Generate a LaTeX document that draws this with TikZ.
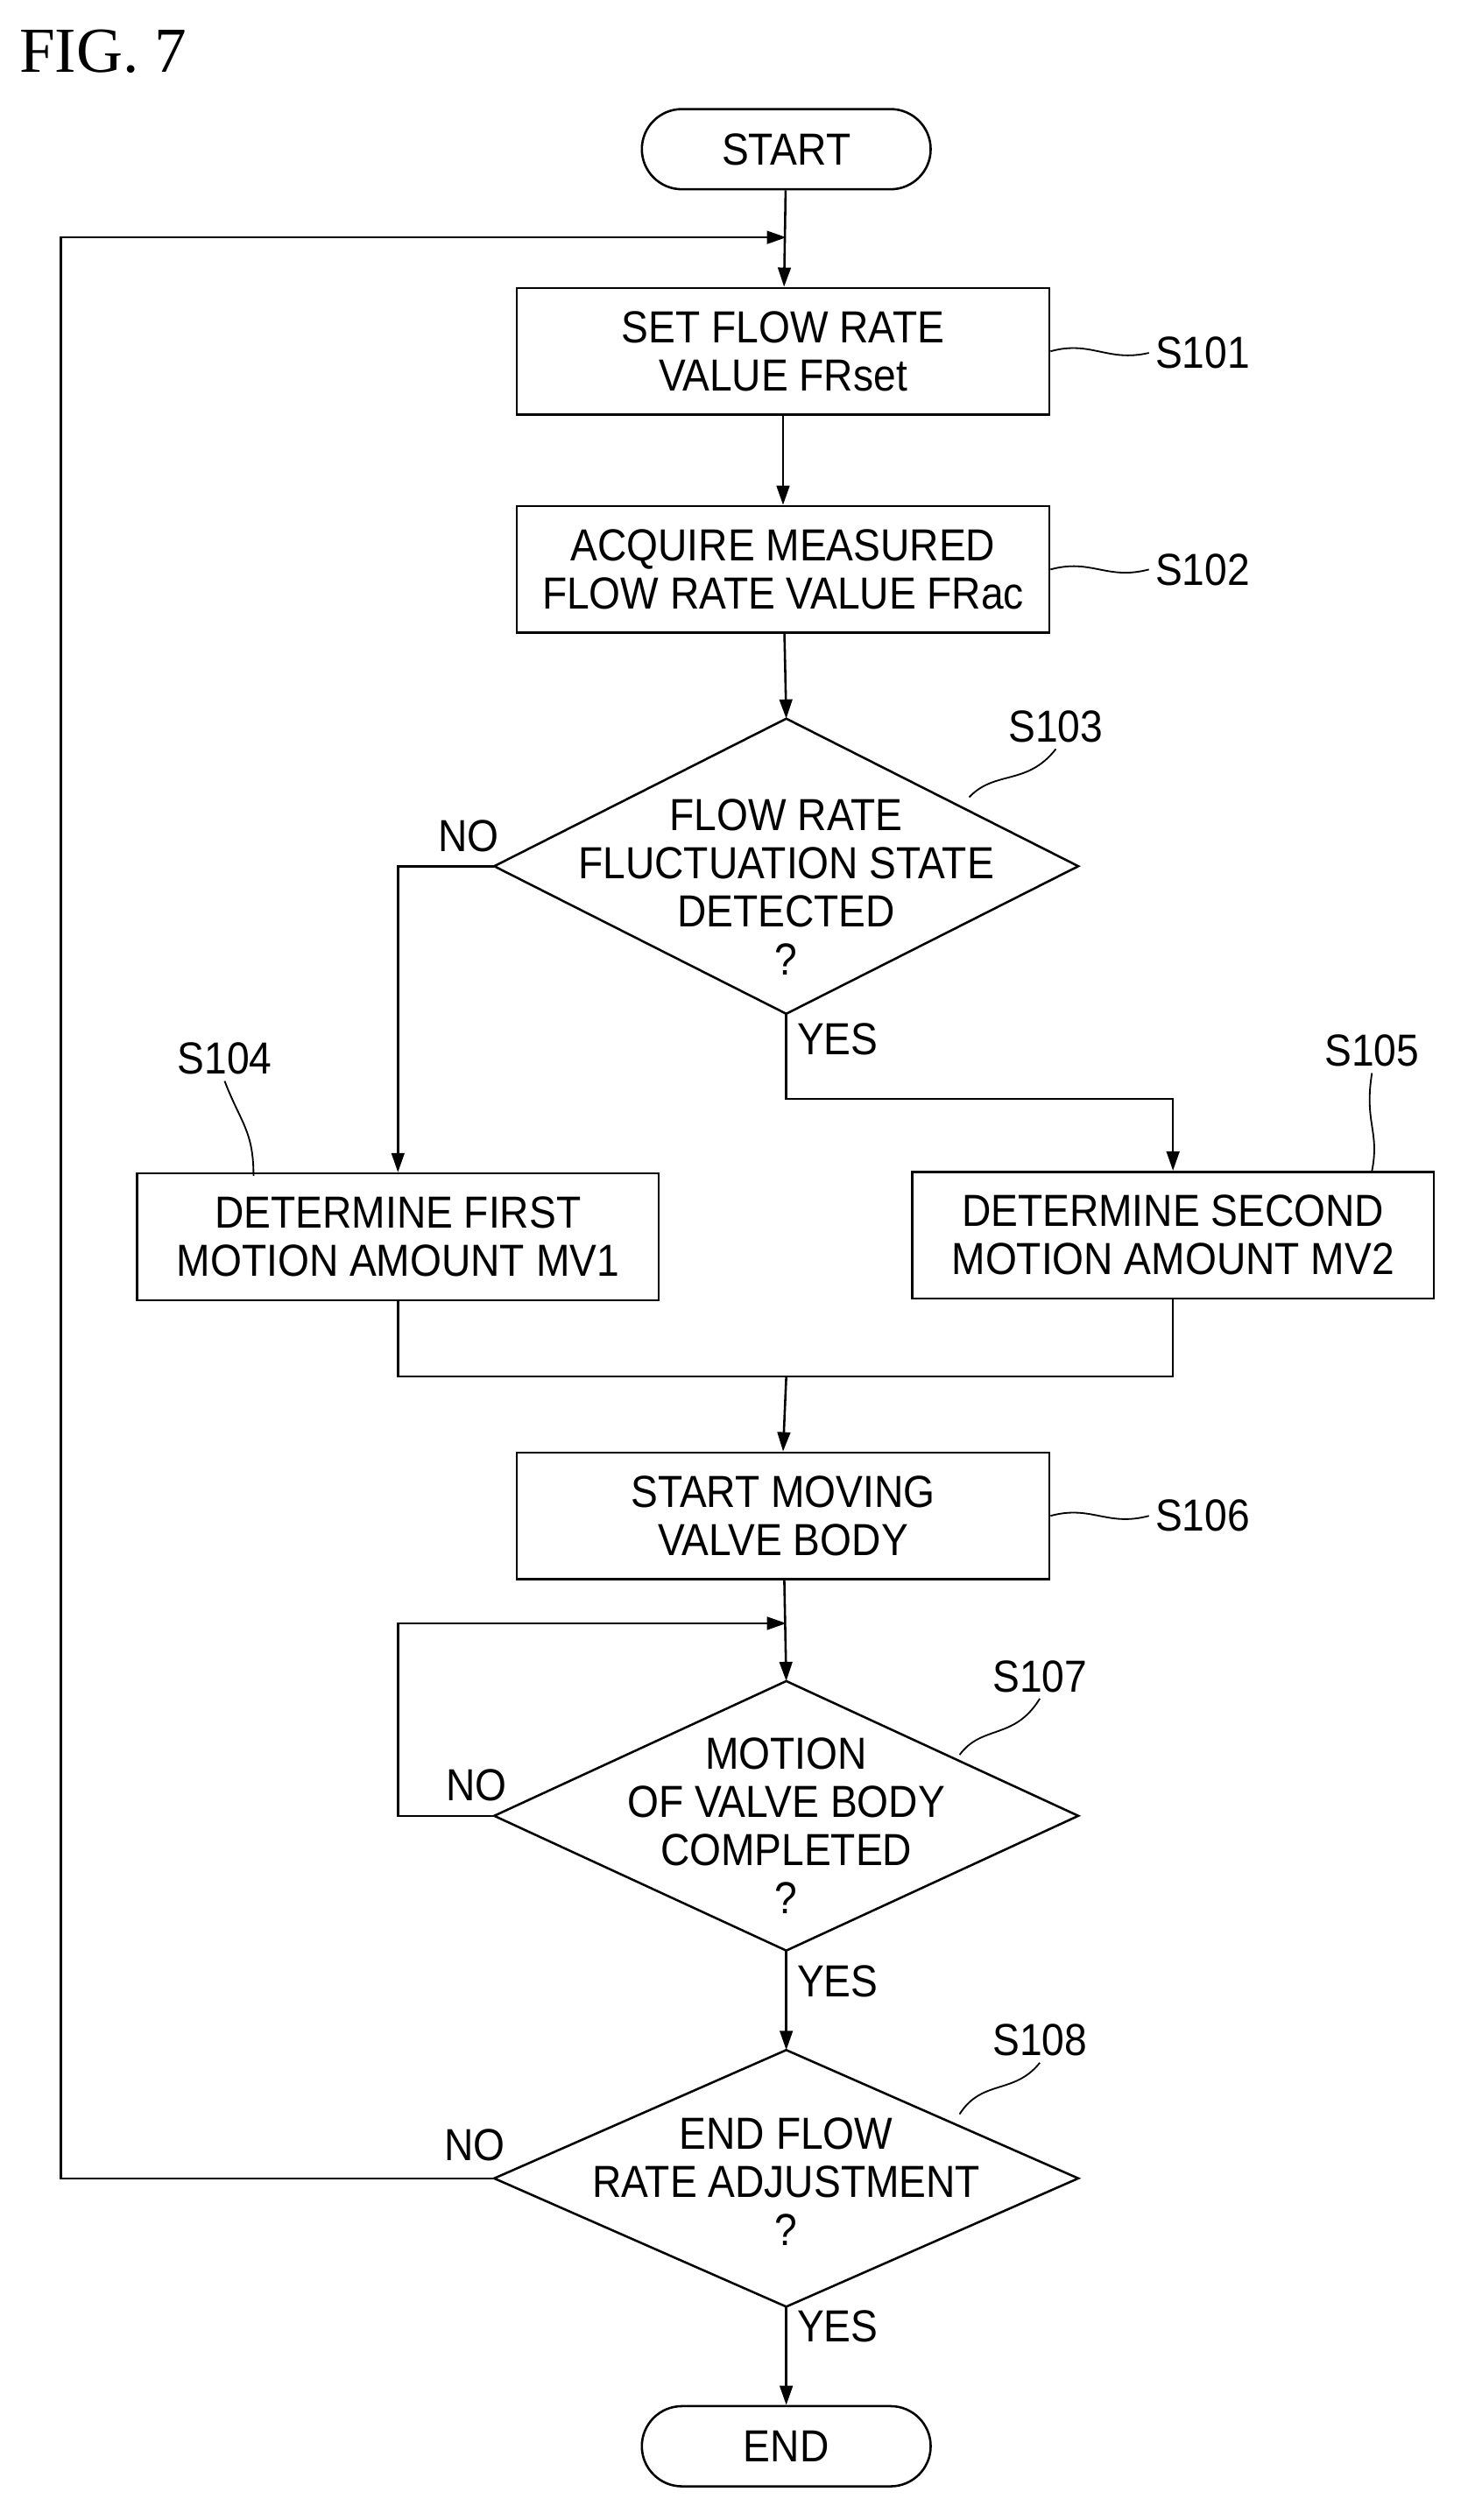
\documentclass[tikz,border=0pt]{standalone}
\usepackage{fontspec}
\setmainfont{Liberation Sans}[FakeStretch=0.9]
\newfontfamily\figfont{Liberation Serif}
\usetikzlibrary{shapes.geometric,arrows.meta}
\begin{document}
\begin{tikzpicture}[x=1pt,y=-1pt,line width=1.4pt,
 txt/.style={font=\fontsize{28}{30}\selectfont,align=center},
 box/.style={draw,txt,minimum width=332,minimum height=79,inner sep=0},
 term/.style={draw,txt,rounded corners=25,minimum width=180,minimum height=50,inner sep=0},
 lab/.style={txt,anchor=west},
 arr/.style={-{Triangle[length=12pt,width=8pt]}}]
\useasboundingbox (0,0) rectangle (910,1571);
\node[anchor=west,font=\figfont\fontsize{40}{40}\selectfont] (fig) at (8,32) {FIG. 7};
\node[term] (start) at (490,93) {START};
\node[box] (s1) at (488,219) {SET FLOW RATE\\VALUE FRset};
\node[box] (s2) at (488,355) {ACQUIRE MEASURED\\FLOW RATE VALUE FRac};
% diamond S103
\coordinate (d3n) at (490,448); \coordinate (d3e) at (672,540);
\coordinate (d3s) at (490,632); \coordinate (d3w) at (308,540);
\draw (d3n) -- (d3e) -- (d3s) -- (d3w) -- cycle;
\node[txt] (d3) at (490,553) {FLOW RATE\\FLUCTUATION STATE\\DETECTED\\?};
\node[box,minimum width=325] (s4) at (248,771) {DETERMINE FIRST\\MOTION AMOUNT MV1};
\node[box,minimum width=325] (s5) at (731,770) {DETERMINE SECOND\\MOTION AMOUNT MV2};
\node[box] (s6) at (488,945) {START MOVING\\VALVE BODY};
% diamond S107
\coordinate (d7n) at (490,1048); \coordinate (d7e) at (672,1132);
\coordinate (d7s) at (490,1216); \coordinate (d7w) at (308,1132);
\draw (d7n) -- (d7e) -- (d7s) -- (d7w) -- cycle;
\node[txt] (d7) at (490,1138) {MOTION\\OF VALVE BODY\\COMPLETED\\?};
% diamond S108
\coordinate (d8n) at (490,1278); \coordinate (d8e) at (672,1358);
\coordinate (d8s) at (490,1438); \coordinate (d8w) at (308,1358);
\draw (d8n) -- (d8e) -- (d8s) -- (d8w) -- cycle;
\node[txt] (d8) at (490,1360) {END FLOW\\RATE ADJUSTMENT\\?};
\node[term] (end) at (490,1525) {END};
% labels
\node[lab] (l1) at (716,220) {S101};
\node[lab] (l2) at (716,355) {S102};
\node[txt] (l3) at (658,453) {S103};
\node[txt] (l4) at (140,660) {S104};
\node[txt] (l5) at (855,655) {S105};
\node[lab] (l6) at (716,945) {S106};
\node[txt] (l7) at (648,1045) {S107};
\node[txt] (l8) at (648,1272) {S108};
\draw[line width=1pt] (s1.east) .. controls (680,212) and (690,226) .. (l1.west);
\draw[line width=1pt] (s2.east) .. controls (680,348) and (690,362) .. (l2.west);
\draw[line width=1pt] (604,497) .. controls (620,480) and (640,490) .. (l3.south);
\draw[line width=1pt] (l4.south) .. controls (150,700) and (158,705) .. (158,733);
\draw[line width=1pt] (l5.south) .. controls (850,700) and (860,705) .. (855,730);
\draw[line width=1pt] (s6.east) .. controls (680,938) and (690,952) .. (l6.west);
\draw[line width=1pt] (598,1094) .. controls (612,1075) and (632,1085) .. (l7.south);
\draw[line width=1pt] (598,1318) .. controls (612,1296) and (632,1306) .. (l8.south);
% flow
\coordinate (top) at (490,148);
\draw[arr] (start) -- (s1);
\draw[arr] (s1) -- (s2);
\draw[arr] (s2) -- (d3n);
\draw[arr] (d3w) -| (s4.north);
\draw[arr] (d3s) -- (490,685) -| (s5.north);
\coordinate (m) at (490,858);
\draw (s4.south) |- (m) -| (s5.south);
\draw[arr] (m) -- (s6.north);
\draw[arr] (s6) -- (d7n);
\coordinate (j7) at (490,1012);
\draw[arr] (d7w) -- (248,1132) -- (248,1012) -- (j7);
\draw[arr] (d7s) -- (d8n);
\draw[arr] (d8w) -- (38,1358) -- (38,148) -- (top);
\draw[arr] (d8s) -- (end);
\node[txt] (n3) at (292,521) {NO};
\node[txt] (y3) at (522,648) {YES};
\node[txt] (n7) at (297,1113) {NO};
\node[txt] (y7) at (522,1235) {YES};
\node[txt] (n8) at (296,1337) {NO};
\node[txt] (y8) at (522,1450) {YES};
\end{tikzpicture}
\end{document}
